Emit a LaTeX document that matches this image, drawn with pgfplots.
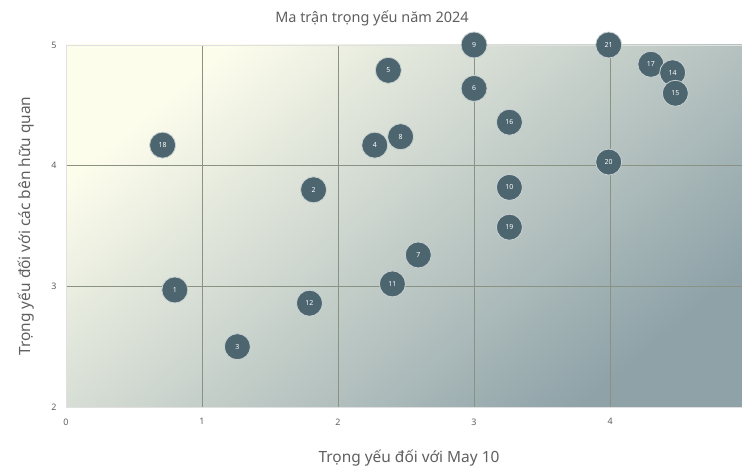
\documentclass[border=0pt]{standalone}
\usepackage{fontspec}
\setmainfont{Noto Sans}
\usepackage{pgfplots}
\usepackage{pgfplotstable}
\pgfplotsset{compat=1.18}

\definecolor{bubble}{RGB}{76,101,110}
\definecolor{bgA}{RGB}{253,253,236}
\definecolor{bgM}{RGB}{214,223,206}
\definecolor{bgB}{RGB}{142,162,168}
\definecolor{gridc}{RGB}{138,146,132}
\definecolor{txt}{RGB}{95,95,95}

\pgfplotstableread{
x y lab
0.71 4.17 18
0.80 2.97 1
1.26 2.50 3
1.79 2.86 12
1.82 3.80 2
2.37 4.79 5
2.27 4.17 4
2.46 4.24 8
2.40 3.02 11
2.59 3.26 7
3.00 5.00 9
3.00 4.64 6
3.26 4.36 16
3.26 3.82 10
3.26 3.49 19
3.99 5.00 21
3.99 4.03 20
4.30 4.84 17
4.46 4.77 14
4.48 4.60 15
}\materiality

\begin{document}
\begin{tikzpicture}
\useasboundingbox (0,0) rectangle (742bp,471bp);
\begin{axis}[
  at={(66bp,64bp)}, anchor=south west,
  scale only axis, width=676bp, height=362bp,
  xmin=0, xmax=4.97, ymin=2, ymax=5,
  xtick={0,1,2,3,4}, ytick={2,3,4,5},
  major tick length=0pt,
  grid=major,
  major grid style={gridc, line width=0.8bp},
  axis line style={black!12},
  axis background/.style={shade, top color=bgA, middle color=bgM, bottom color=bgB, shading angle=40},
  tick label style={font=\fontsize{9}{10}\selectfont, text=txt},
  /pgf/number format/assume math mode=true,
  xticklabel style={yshift=-8bp},
  yticklabel style={xshift=-6bp},
  title={Ma trận trọng yếu năm 2024},
  title style={font=\fontsize{14.5}{16}\selectfont, text=txt, yshift=10bp, xshift=-32bp},
  xlabel={Trọng yếu đối với May 10},
  ylabel={Trọng yếu đối với các bên hữu quan},
  label style={font=\fontsize{15.5}{17}\selectfont, text=txt},
  xlabel style={yshift=-18bp, xshift=5bp},
  ylabel style={yshift=10bp},
  clip=false,
]
\addplot[only marks, mark=*, mark size=13bp,
  mark options={fill=bubble, draw=white!70!bubble, line width=0.8bp},
  point meta=explicit symbolic,
  nodes near coords,
  every node near coord/.append style={anchor=center, font=\fontsize{7}{8}\selectfont, text=white}]
  table[x=x, y=y, meta=lab] {\materiality};
\end{axis}
\end{tikzpicture}
\end{document}
